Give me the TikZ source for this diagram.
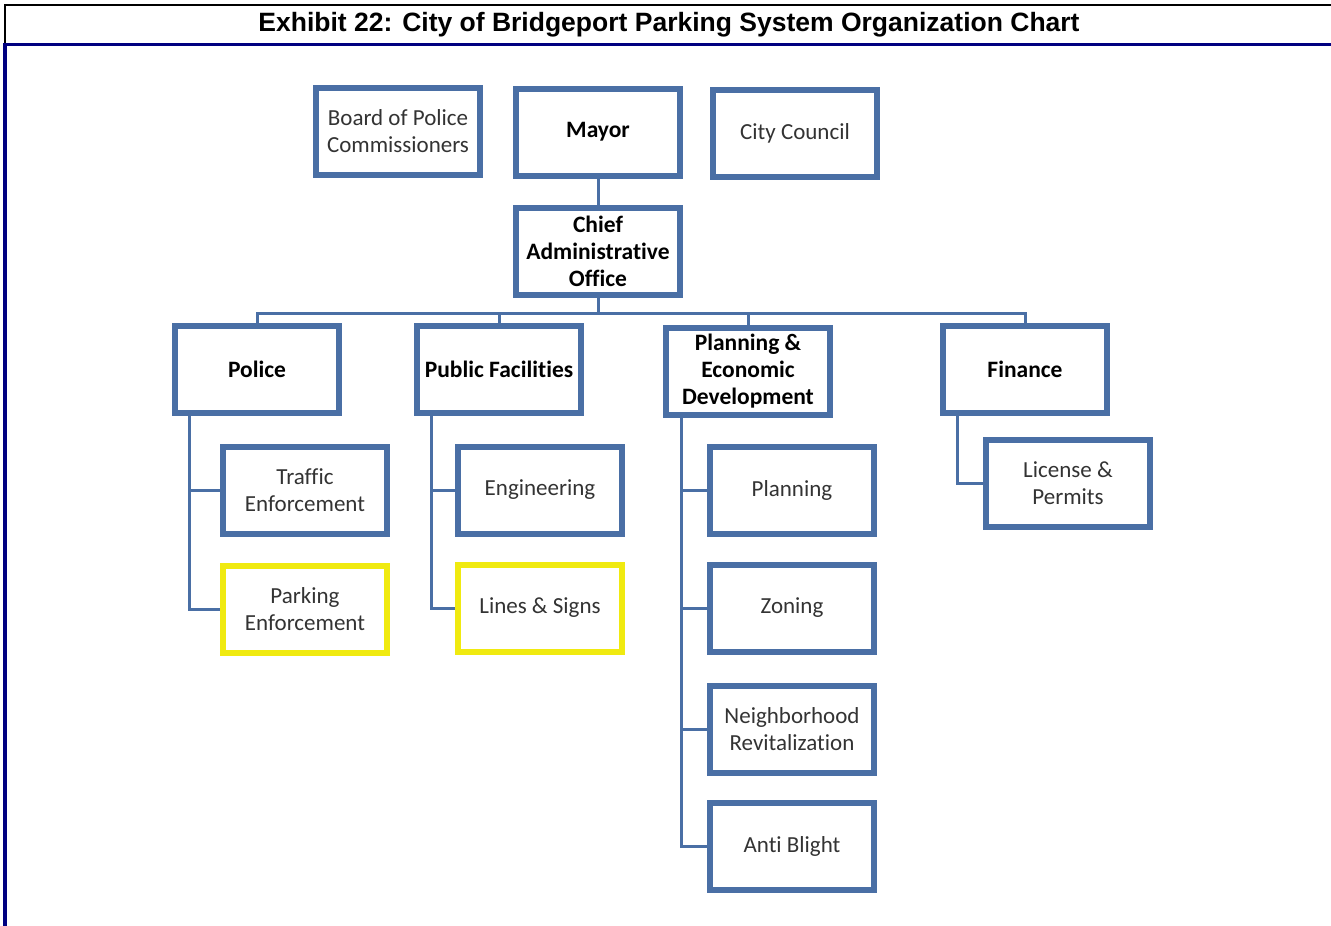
\documentclass[tikz,border=0pt]{standalone}
\usepackage{fontspec}
\setmainfont{Carlito}[Ligatures=NoCommon]
\newfontfamily\headfont{Liberation Sans}
\usetikzlibrary{positioning,shadows}

\definecolor{orgblue}{HTML}{4A6FA5}
\definecolor{orgyellow}{HTML}{F0EA10}
\definecolor{pagenavy}{HTML}{000080}
\definecolor{unittext}{HTML}{333333}

\begin{document}
\begin{tikzpicture}[x=1pt,y=-1pt,
  unit/.style={draw=orgblue, line width=6pt, fill=white, inner sep=3pt,
    minimum width=164pt, minimum height=87pt, align=center, text=unittext,
    font=\fontsize{23}{27}\selectfont,
    drop shadow={shadow xshift=2pt, shadow yshift=-2pt, opacity=0.18}},
  head/.style={unit, text=black, font=\fontsize{23.5}{27}\selectfont\bfseries},
  picked/.style={draw=orgyellow},
  link/.style={draw=orgblue, line width=3pt}]

  \useasboundingbox (0,0) rectangle (1331,926);

  % page frame and title
  \draw[black, line width=2pt] (5,43) -- (5,5) -- (1331,5);
  \draw[pagenavy, line width=3.5pt] (5,926) -- (5,44.5) -- (1331,44.5);
  \node[font=\headfont\bfseries\fontsize{26.5}{30}\selectfont] (title) at (669,25)
    {Exhibit 22: City of Bridgeport Parking System Organization Chart};

  % top level
  \node[unit] (board)   at (398,131) {Board of Police\\Commissioners};
  \node[head] (mayor)   at (598,132) {Mayor};
  \node[unit] (council) at (795,133) {City Council};
  \node[head] (cao)     at (598,251) {Chief\\Administrative\\Office};

  % departments
  \node[head] (police)   at (257,369)  {Police};
  \node[head] (pubfac)   at (499,369)  {Public Facilities};
  \node[head] (ped)      at (748,371)  {Planning \&\\Economic\\Development};
  \node[head] (finance)  at (1025,369) {Finance};

  % divisions
  \node[unit]         (traffic) at (305,490) {Traffic\\Enforcement};
  \node[unit,picked]  (parking) at (305,609) {Parking\\Enforcement};
  \node[unit]         (eng)     at (540,490) {Engineering};
  \node[unit,picked]  (signs)   at (540,608) {Lines \& Signs};
  \node[unit]         (plan)    at (792,490) {Planning};
  \node[unit]         (zoning)  at (792,608) {Zoning};
  \node[unit]         (nbhd)    at (792,729) {Neighborhood\\Revitalization};
  \node[unit]         (blight)  at (792,846) {Anti Blight};
  \node[unit]         (license) at (1068,483) {License \&\\Permits};

  % reporting lines
  \coordinate (bus) at (598,313);
  \draw[link] (mayor.south) -- (cao.north);
  \draw[link] (cao.south) -- (bus);
  \draw[link] (police.north) |- (bus) -| (finance.north);
  \draw[link] (pubfac.north) -- (pubfac.north |- bus);
  \draw[link] (ped.north) -- (ped.north |- bus);

  \draw[link] ([xshift=17pt]police.south west) |- (traffic.west);
  \draw[link] ([xshift=17pt]police.south west) |- (parking.west);
  \draw[link] ([xshift=17pt]pubfac.south west) |- (eng.west);
  \draw[link] ([xshift=17pt]pubfac.south west) |- (signs.west);
  \draw[link] ([xshift=18pt]ped.south west) |- (plan.west);
  \draw[link] ([xshift=18pt]ped.south west) |- (zoning.west);
  \draw[link] ([xshift=18pt]ped.south west) |- (nbhd.west);
  \draw[link] ([xshift=18pt]ped.south west) |- (blight.west);
  \draw[link] ([xshift=17pt]finance.south west) |- (license.west);
\end{tikzpicture}
\end{document}
